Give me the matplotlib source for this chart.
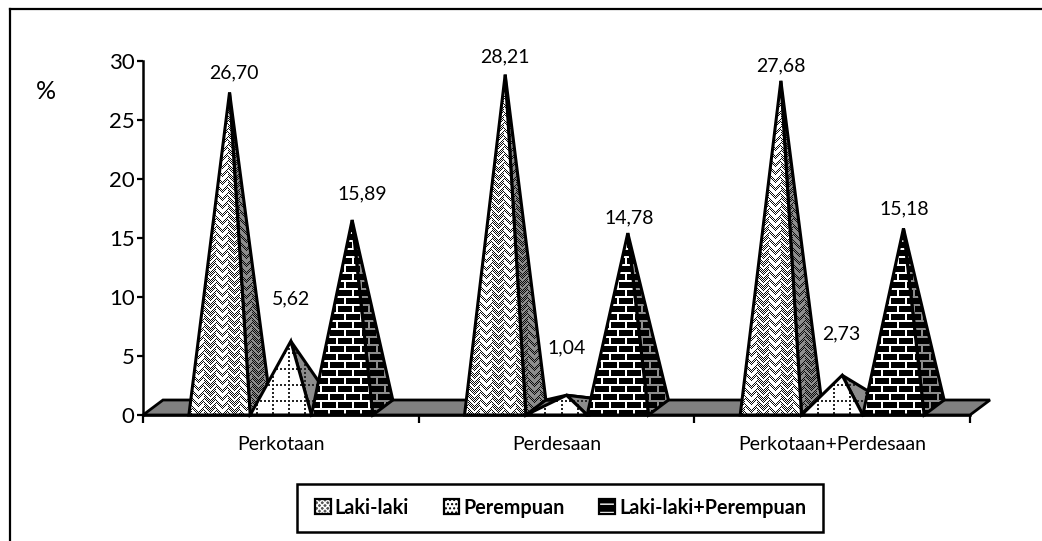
import numpy as np
import matplotlib
matplotlib.use("Agg")
import matplotlib.pyplot as plt
from matplotlib.patches import Polygon, Rectangle, Patch
from matplotlib.legend_handler import HandlerBase
from matplotlib.lines import Line2D

categories = ["Perkotaan", "Perdesaan", "Perkotaan+Perdesaan"]
series_names = ["Laki-laki", "Perempuan", "Laki-laki+Perempuan"]
laki = [26.70, 28.21, 27.68]
perempuan = [5.62, 1.04, 2.73]
total = [15.89, 14.78, 15.18]
series = [laki, perempuan, total]
y_ticks = [0, 5, 10, 15, 20, 25, 30]
labels_txt = [["26,70", "28,21", "27,68"], ["5,62", "1,04", "2,73"], ["15,89", "14,78", "15,18"]]
# label placement relative to each apex, in pixels (series x category)
label_dx = [[4, 0, 0], [0, 0, -1], [10, 1, 1]]
label_dy = [[20, 18, 15], [42, 47, 41], [26, 15, 20]]

W, H = 1042, 541
plt.rcParams["font.family"] = ["Lato", "DejaVu Sans"]
fig = plt.figure(figsize=(W / 100, H / 100), dpi=100, facecolor="white")

X0, X1, Y0, Y1 = 143.0, 970.0, 415.0, 61.0
ax = fig.add_axes([X0 / W, 1 - Y0 / H, (X1 - X0) / W, (Y0 - Y1) / H])
ax.set_facecolor("none")
ax.set_xlim(0, 3)
ax.set_ylim(0, 30)

px_x = 3.0 / (X1 - X0)
px_y = 30.0 / (Y0 - Y1)
DX, DY = 20 * px_x, 15 * px_y
BW = 61.3 * px_x
GAP = (1 - 3 * BW) / 2

R, C = np.indices((H, W))


def tile_zigzag(light):
    # broken herringbone: white steps with dotted dark bands between them
    tri = np.abs((C % 12) - 6)
    w = (R + tri + (C // 12) * 3) % 8
    a = np.where((R + C) % 2 == 0, 0.05, light)
    a = np.where(w < 3, light, a)
    return a


def tile_grid(light):
    a = np.full((H, W), light, dtype=float)
    h = (R % 16 < 2) & (C % 4 < 2)
    v = (C % 16 < 2) & (R % 4 < 2)
    a[h | v] = 0.15
    return a


def tile_brick(light):
    a = np.zeros((H, W))
    row = R // 8
    a[R % 8 < 2] = light
    a[((C + (row % 2) * 8) % 16) < 2] = light
    return a


tiles = [tile_zigzag, tile_grid, tile_brick]
tex_front = [t(1.0) for t in tiles]
tex_side = [t(0.55) for t in tiles]


def textured(points, tex, z):
    outline = Polygon(points, closed=True, facecolor="none", edgecolor="black",
                      linewidth=2.2, joinstyle="miter", clip_on=False, zorder=z + 0.1)
    ax.add_patch(outline)
    im = ax.imshow(tex, cmap="gray", vmin=0, vmax=1, extent=(0, 1, 0, 1),
                   transform=fig.transFigure, interpolation="nearest",
                   aspect="auto", zorder=z)
    clip = Polygon(points, closed=True, transform=ax.transData)
    im.set_clip_box(None)
    im.set_clip_path(clip)


floor = [(0, 0), (3, 0), (3 + DX, DY), (DX, DY)]
ax.add_patch(Polygon(floor, closed=True, facecolor="#808080", edgecolor="black",
                     linewidth=2.0, clip_on=False, zorder=1))

z = 2.0
for ci in range(len(categories)):
    for si, vals in enumerate(series):
        x = ci + GAP + si * BW
        v = vals[ci]
        apex = (x + BW / 2 + DX / 2, v + DY / 2)
        fl, fr = (x, 0), (x + BW, 0)
        bl, br = (x + DX, DY), (x + BW + DX, DY)
        if apex[1] < DY * 1.6:
            textured([bl, br, apex], tex_side[si], z)
            z += 1
        textured([fr, br, apex], tex_side[si], z)
        z += 1
        textured([fl, fr, apex], tex_front[si], z)
        z += 1
        ax.annotate(labels_txt[si][ci], xy=apex,
                    xytext=(label_dx[si][ci], label_dy[si][ci]), textcoords="offset pixels",
                    ha="center", va="center", fontsize=14, color="black", zorder=200,
                    annotation_clip=False)

ax.set_xlim(0, 3)
ax.set_ylim(0, 30)
ax.set_aspect("auto")

for s in ("top", "right"):
    ax.spines[s].set_visible(False)
for s in ("left", "bottom"):
    ax.spines[s].set_linewidth(1.8)
    ax.spines[s].set_zorder(150)
ax.set_yticks(y_ticks)
ax.set_xticks([0, 1, 2, 3])
ax.set_xticks([0.5, 1.5, 2.5], minor=True)
ax.set_xticklabels([])
ax.set_xticklabels(categories, minor=True)
ax.tick_params(axis="x", which="major", length=6, width=1.6, direction="out")
ax.tick_params(axis="x", which="minor", length=0, pad=15, labelsize=14)
ax.tick_params(axis="y", which="major", length=4.5, width=1.6, direction="out", pad=1.5, labelsize=16)

fig.text(45.5 / W, 1 - 92 / H, "%", ha="center", va="center", fontsize=18, color="black")

# outer frame: only the left and top sides are in the picture
fig.add_artist(Line2D([9.5 / W, 9.5 / W], [0, 1 - 8.5 / H], color="black", linewidth=1.6,
                      solid_capstyle="projecting", transform=fig.transFigure))
fig.add_artist(Line2D([9.5 / W, 1], [1 - 8.5 / H, 1 - 8.5 / H], color="black", linewidth=1.6,
                      solid_capstyle="projecting", transform=fig.transFigure))

# legend frame
fig.add_artist(Rectangle((296.5 / W, 1 - 532 / H), (823 - 296.5) / W, (532 - 483.5) / H,
                         facecolor="white", edgecolor="black", linewidth=1.8,
                         transform=fig.transFigure, zorder=5))


class SwatchHandler(HandlerBase):
    def __init__(self, face, hatchcol, hatch):
        super().__init__()
        self.face, self.hatchcol, self.hatch = face, hatchcol, hatch

    def create_artists(self, legend, orig, xd, yd, width, height, fontsize, trans):
        r1 = Rectangle((xd, yd), width, height, facecolor=self.face, edgecolor=self.hatchcol,
                       hatch=self.hatch, linewidth=0, transform=trans)
        r2 = Rectangle((xd, yd), width, height, facecolor="none", edgecolor="black",
                       linewidth=1.6, transform=trans)
        return [r1, r2]


handles = [Patch(label=n) for n in series_names]
hmap = {handles[0]: SwatchHandler("#555555", "white", "xxxxxx"),
        handles[1]: SwatchHandler("white", "black", "...."),
        handles[2]: SwatchHandler("black", "white", "--")}
leg = fig.legend(handles=handles, handler_map=hmap, loc="center",
                 bbox_to_anchor=(560.5 / W, 1 - 508 / H), ncol=3, frameon=False,
                 prop={"weight": "bold", "size": 14.2},
                 handlelength=0.8, handleheight=0.75, handletextpad=0.2, columnspacing=1.75,
                 borderpad=0, borderaxespad=0)
leg.set_zorder(6)

fig.savefig("out.png", dpi=100, facecolor="white")
